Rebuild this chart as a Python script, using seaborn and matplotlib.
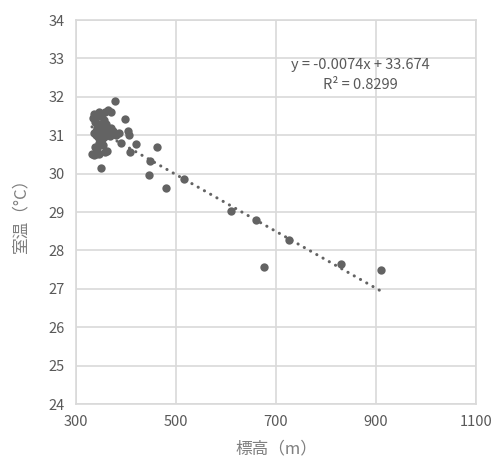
import numpy as np
import pandas as pd
import matplotlib
matplotlib.use("Agg")
import matplotlib.pyplot as plt
import seaborn as sns

# elevation (m) and room temperature (C)
elevation = [
    333, 335, 338, 340, 336, 345, 348, 352, 355, 358, 364, 370, 378,
    342, 346, 350, 353, 356, 360, 362, 366, 370, 374, 380, 385,
    340, 344, 348, 352, 356, 360, 368,
    338, 342, 346, 354, 358, 362,
    332, 336, 340, 345, 350,
    389, 398, 404, 406, 408, 419,
    448, 446, 462, 480, 515, 610, 660, 675, 725, 830, 910,
]
room_temp = [
    31.45, 31.55, 31.35, 31.10, 31.05, 31.60, 31.50, 31.55, 31.40, 31.60, 31.65, 31.60, 31.88,
    31.20, 31.30, 31.20, 31.10, 31.25, 31.30, 31.15, 31.05, 31.20, 31.10, 31.00, 31.05,
    31.00, 30.95, 31.00, 30.90, 30.95, 31.00, 30.98,
    30.70, 30.65, 30.80, 30.75, 30.55, 30.60,
    30.52, 30.48, 30.50, 30.50, 30.15,
    30.80, 31.42, 31.12, 31.00, 30.56, 30.78,
    30.34, 29.97, 30.70, 29.62, 29.85, 29.03, 28.80, 27.58, 28.27, 27.65, 27.50,
]

# linear trendline as given in the chart
slope = -0.0074
intercept = 33.674
r_squared = 0.8299

x_ticks = [300, 500, 700, 900, 1100]
y_ticks = [24, 25, 26, 27, 28, 29, 30, 31, 32, 33, 34]

text_color = "#595959"
label_color = "#7f7f7f"
grid_color = "#d9d9d9"
point_color = "#636363"

sns.set_theme(style="white")
plt.rcParams["font.family"] = ["Noto Sans CJK JP", "DejaVu Sans"]

df = pd.DataFrame({"elevation": elevation, "room_temp": room_temp})

fig = plt.figure(figsize=(4.92, 4.61), dpi=100)
ax = fig.add_axes([76 / 492, 1 - 404 / 461, 400 / 492, 384 / 461])

sns.scatterplot(data=df, x="elevation", y="room_temp", ax=ax,
                color=point_color, s=36, linewidth=0, zorder=3)

# dotted trendline between min and max elevation
trend_x = np.array([min(elevation), max(elevation)])
ax.plot(trend_x, slope * trend_x + intercept, color=point_color,
        linestyle=(0, (0.05, 2.3)), linewidth=2.2, dash_capstyle="round", zorder=2)

ax.text(868, 32.83, f"y = {slope}x + {intercept}", ha="center", va="center",
        color=text_color, fontsize=10.5)
ax.text(868, 32.31, f"R² = {r_squared}", ha="center", va="center",
        color=text_color, fontsize=10.5)

ax.set_xlim(300, 1100)
ax.set_ylim(24, 34)
ax.set_xticks(x_ticks)
ax.set_yticks(y_ticks)
ax.grid(True, color=grid_color, linewidth=1.2)
ax.set_axisbelow(True)
for spine in ax.spines.values():
    spine.set_color(grid_color)
    spine.set_linewidth(1.2)
ax.tick_params(axis="both", length=0, labelsize=10.5, labelcolor=text_color, pad=8)

ax.set_xlabel("標高（m）", color=label_color, fontsize=12, labelpad=8)
ax.set_ylabel("室温（°C）", color=label_color, fontsize=12, labelpad=14)

fig.savefig("out.png", dpi=100)
